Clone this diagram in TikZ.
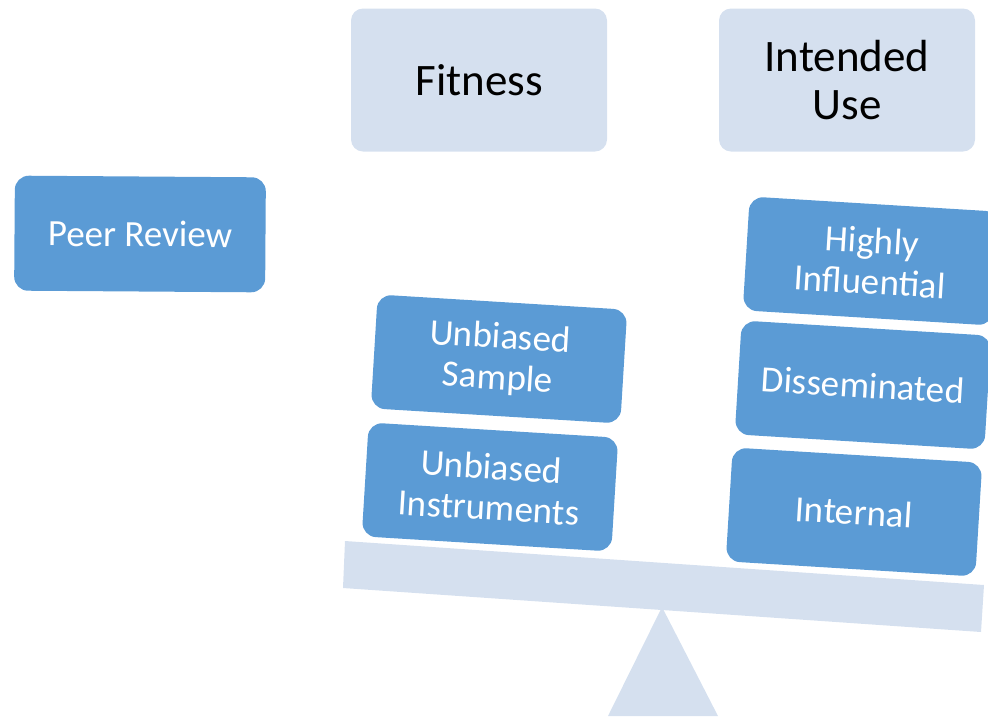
\documentclass[tikz,border=0pt]{standalone}
\usepackage{fontspec}
\setmainfont{Carlito}
\definecolor{lightbox}{HTML}{D5E0EF}
\definecolor{bluebox}{HTML}{5B9BD5}
\begin{document}
\begin{tikzpicture}[x=1pt,y=-1pt,
  headbox/.style={fill=lightbox, rounded corners=12pt, minimum width=256pt, minimum height=143pt,
    align=center, text=black, font=\fontsize{45}{48}\selectfont, inner sep=0pt},
  itembox/.style={fill=bluebox, rounded corners=14pt, minimum width=250pt, minimum height=114pt,
    align=center, text=white, font=\fontsize{37}{41}\selectfont, inner sep=0pt},
  support/.style={fill=lightbox}]
\useasboundingbox (0,0) rectangle (988,716);
\clip (0,0) rectangle (988,716);
% fulcrum and beam
\fill[support] (608,716) -- (662,607) -- (718,716) -- cycle;
\fill[support] (345,541) -- (984,585) -- (981,632) -- (343,588) -- cycle;
% headers
\node[headbox] (fit) at (479,80) {Fitness};
\node[headbox] (use) at (847,80) {Intended\\Use};
% left
\node[itembox, minimum width=251pt, minimum height=115pt, rotate=-0.4] (peer) at (140,234) {Peer Review};
% left stack
\node[itembox, rotate=-3.5] (samp) at (499,359) {Unbiased\\Sample};
\node[itembox, rotate=-3.5] (inst) at (490,487) {Unbiased\\Instruments};
% right stack
\node[itembox, rotate=-3.5] (high) at (871,261) {Highly\\Influential};
\node[itembox, rotate=-3.5] (diss) at (863,385) {Disseminated};
\node[itembox, rotate=-3.5] (intl) at (854,512) {Internal};
\end{tikzpicture}
\end{document}
